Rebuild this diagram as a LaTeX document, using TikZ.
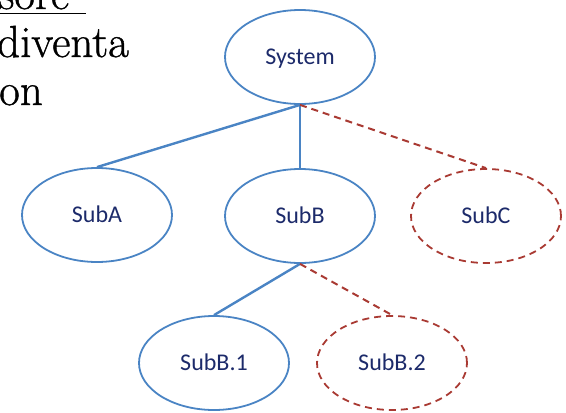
\documentclass[tikz,border=0pt]{standalone}
\usepackage{fontspec}
\setsansfont{Carlito}
\newfontfamily\bodyfont[FakeBold=0.9]{Latin Modern Roman}
\usetikzlibrary{shapes.geometric}
\definecolor{outlineblue}{HTML}{4A84C4}
\definecolor{optred}{HTML}{A93A33}
\definecolor{labelnavy}{HTML}{1C2A6A}
\tikzset{
  unit/.style={ellipse, draw=outlineblue, line width=1.8pt, minimum width=150pt,
    minimum height=94pt, inner sep=0pt, font=\sffamily\fontsize{24}{28}\selectfont,
    text=labelnavy, text height=15pt, text depth=0pt},
  optunit/.style={unit, draw=optred, dash pattern=on 7pt off 5pt},
  link/.style={draw=outlineblue, line width=2.4pt},
  optlink/.style={draw=optred, line width=2pt, dash pattern=on 7pt off 5pt},
  bodytext/.style={anchor=base west, inner sep=0pt,
    font=\bodyfont\fontsize{45}{48}\selectfont, text=black}
}
\begin{document}
\begin{tikzpicture}[x=1pt,y=-1pt]
  \useasboundingbox (0,0) rectangle (566,413);
  \clip (0,0) rectangle (566,413);

  % running text at the left margin
  \node[bodytext] (w1) at (-2,9) {sore};
  \draw[line width=1.8pt] (0,13.5) -- (86,13.5);
  \node[bodytext] (w2) at (-3,57) {diventa};
  \node[bodytext] (w3) at (-1,105) {on};

  % hierarchy of units
  \node[unit] (sys) at (300,57) {System};
  \node[unit] (suba) at (97,215) {SubA};
  \node[unit] (subb) at (300,216) {SubB};
  \node[optunit] (subc) at (486,216) {SubC};
  \node[unit] (subb1) at (214,363) {SubB.1};
  \node[optunit] (subb2) at (392,363) {SubB.2};

  % decomposition links
  \draw[link] (sys.south) -- (suba.north);
  \draw[link] (sys.south) -- (subb.north);
  \draw[optlink] (sys.south) -- (subc.north);
  \draw[link] (subb.south) -- (subb1.north);
  \draw[optlink] (subb.south) -- (subb2.north);
\end{tikzpicture}
\end{document}
